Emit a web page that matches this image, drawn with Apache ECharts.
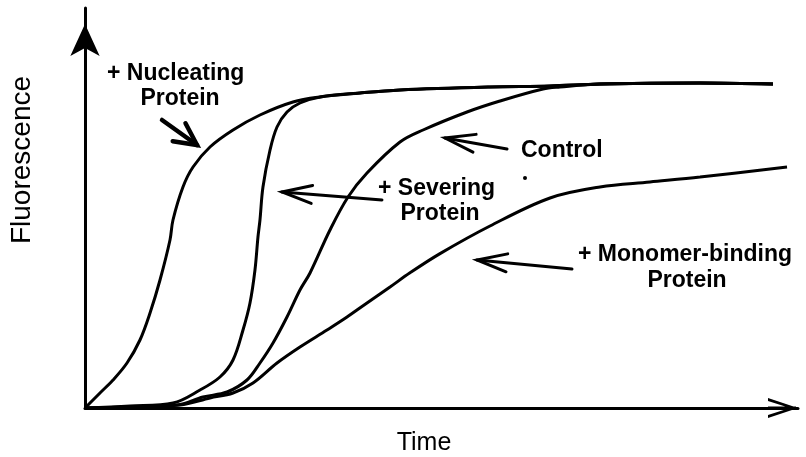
<!DOCTYPE html>
<html>
<head>
<meta charset="utf-8">
<script src="https://cdn.jsdelivr.net/npm/echarts@6/dist/echarts.min.js"></script>
<style>
  html, body { margin: 0; padding: 0; background: #fff; }
  #chart { width: 806px; height: 457px; }
</style>
</head>
<body>
<div id="chart"></div>
<script>
// curves, x = time, y = fluorescence, both on a 0..100 scale
const nucleating = [[0, 0], [0.7, 1.25], [2.1, 3.75], [3.93, 7], [5.89, 11.25], [7.71, 17], [9.12, 23.75],
  [10.52, 32], [11.92, 42], [12.34, 47], [13.74, 55.25], [15.15, 60.25], [17.53, 65.25], [20.76, 69.5],
  [24.54, 73.25], [29.17, 76.5], [32.96, 77.75], [38.57, 78.75], [44.18, 79.5], [56.8, 80.25],
  [65.22, 80.5], [72.23, 81], [86.26, 81.25], [96.49, 81]]
const severing = [[0, 0], [6.31, 0.5], [12.34, 1.25], [16.13, 4.5], [18.93, 7.75], [20.76, 12], [22.16, 19.5],
  [23.14, 26.25], [23.84, 34.5], [24.26, 42.75], [24.54, 47], [24.96, 55.25], [25.95, 64.5], [26.93, 70.25],
  [28.33, 74], [30.15, 76.25], [32.96, 77.75], [38.57, 78.75], [44.18, 79.5], [56.8, 80.25],
  [65.22, 80.5], [72.23, 81], [86.26, 81.25], [96.49, 81]]
const control = [[0, 0], [6.31, 0.25], [12.9, 0.75], [16.55, 2.75], [19.92, 4], [22.72, 7], [24.54, 11.25],
  [26.37, 16.25], [28.33, 22.75], [30.15, 29.5], [31.56, 33.75], [34.36, 44.5], [36.89, 52.75],
  [39.55, 58.75], [44.18, 66.5], [47.41, 69.5], [53.58, 74], [58.2, 76.75], [64.24, 79.75],
  [66.62, 80.25], [72.23, 81], [86.26, 81.25], [96.49, 81]]
const monomerBinding = [[0, 0], [6.31, 0.25], [13.32, 0.75], [17.53, 2.5], [20.76, 3.75], [23.56, 6.25],
  [26.93, 11.25], [30.15, 15.25], [33.94, 19.5], [36.75, 22.75], [39.55, 26.25], [42.78, 30.25],
  [45.58, 33.8], [49.79, 38.6], [56.8, 45.5], [65.22, 52.5], [72.23, 55.25], [79.24, 56.5],
  [86.26, 57.75], [98.46, 60.25]]

// annotation arrows, [tail, tip] in the same data units
const arrowNucleating = [[10.8, 72], [15.71, 65.75]]
const arrowSevering = [[41.65, 52], [27.63, 54]]
const arrowControl = [[59.19, 64.75], [50.49, 67.5]]
const arrowMonomer = [[68.3, 34.75], [54.98, 37]]

const FONT = '"Liberation Sans", Arial, Helvetica, sans-serif'

const chart = echarts.init(document.getElementById('chart'))

function curve (name, data) {
  return {
    name: name,
    type: 'line',
    data: data,
    smooth: 0.35,
    showSymbol: false,
    lineStyle: { color: '#000', width: 3 },
    emphasis: { disabled: true }
  }
}

chart.setOption({
  animation: false,
  backgroundColor: '#fff',
  grid: { left: 85, right: 8, top: 8, bottom: 49, containLabel: false },
  xAxis: {
    type: 'value',
    min: 0,
    max: 100,
    axisLine: {
      show: true,
      onZero: false,
      symbol: ['none', 'path://M0,30 L10,0 L20,30 L17,30 L10,8 L3,30 Z M8.6,2 L11.4,2 L11.4,30 L8.6,30 Z'],
      symbolSize: [20, 30],
      symbolOffset: [0, -15],
      lineStyle: { color: '#000', width: 3 }
    },
    axisTick: { show: false },
    axisLabel: { show: false },
    splitLine: { show: false }
  },
  yAxis: {
    type: 'value',
    min: 0,
    max: 100,
    axisLine: {
      show: true,
      onZero: false,
      symbol: ['none', 'arrow'],
      symbolSize: [22, 32],
      symbolOffset: [0, -16],
      lineStyle: { color: '#000', width: 3 }
    },
    axisTick: { show: false },
    axisLabel: { show: false },
    splitLine: { show: false }
  },
  series: [
    curve('+ Nucleating Protein', nucleating),
    curve('+ Severing Protein', severing),
    curve('Control', control),
    curve('+ Monomer-binding Protein', monomerBinding)
  ]
})

function arrow (pts, width, len, half) {
  const p0 = chart.convertToPixel({ gridIndex: 0 }, pts[0])
  const p1 = chart.convertToPixel({ gridIndex: 0 }, pts[1])
  const dx = p1[0] - p0[0]
  const dy = p1[1] - p0[1]
  const d = Math.hypot(dx, dy)
  const ux = dx / d
  const uy = dy / d
  const bx = p1[0] - ux * len
  const by = p1[1] - uy * len
  const style = { stroke: '#000', lineWidth: width, fill: null, lineCap: 'round', lineJoin: 'miter' }
  return [
    { type: 'polyline', shape: { points: [p0, p1] }, style: style },
    { type: 'polyline', shape: { points: [[bx - uy * half, by + ux * half], p1, [bx + uy * half, by - ux * half]] }, style: style }
  ]
}

function label (text, x, y, opts) {
  return {
    type: 'text',
    x: x,
    y: y,
    rotation: (opts && opts.rotation) || 0,
    style: {
      text: text,
      font: ((opts && opts.font) || 'bold 23px ') + FONT,
      fill: '#000',
      align: (opts && opts.align) || 'left',
      verticalAlign: 'middle'
    }
  }
}

let elements = []
  .concat(arrow(arrowNucleating, 4.5, 22, 11))
  .concat(arrow(arrowSevering, 3, 30, 9))
  .concat(arrow(arrowControl, 3, 30, 9))
  .concat(arrow(arrowMonomer, 3, 30, 9))

elements.push(
  label('+ Nucleating', 107, 74),
  label('Protein', 180, 99, { align: 'center' }),
  label('+ Severing', 378, 189),
  label('Protein', 440, 214, { align: 'center' }),
  label('Control', 521, 151),
  label('+ Monomer-binding', 578, 255),
  label('Protein', 687, 281, { align: 'center' }),
  label('Time', 424, 443, { align: 'center', font: '25px ' }),
  label('Fluorescence', 22, 160, { align: 'center', font: '28px ', rotation: Math.PI / 2 }),
  { type: 'circle', shape: { cx: 525, cy: 178, r: 2 }, style: { fill: '#000' } }
)

chart.setOption({ graphic: { elements: elements } })
</script>
</body>
</html>
